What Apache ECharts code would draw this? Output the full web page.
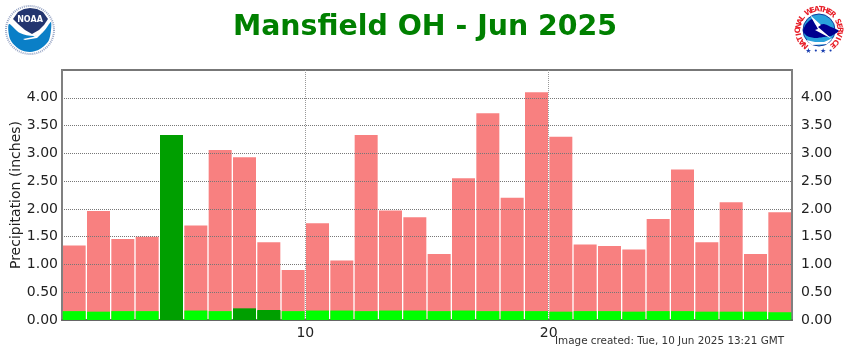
<!DOCTYPE html>
<html>
<head>
<meta charset="utf-8">
<style>
  html, body { margin: 0; padding: 0; background: #fff; }
  #chart { width: 850px; height: 350px; }
</style>
<script src="https://cdn.jsdelivr.net/npm/echarts@6/dist/echarts.min.js"></script>
</head>
<body>
<div id="chart"></div>
<script>
const days = ['1','2','3','4','5','6','7','8','9','10','11','12','13','14','15','16','17','18','19','20','21','22','23','24','25','26','27','28','29','30'];
// record max for each day, the pink bars
const recordPrecip = [1.34,1.96,1.46,1.50,3.33,1.70,3.06,2.93,1.40,0.90,1.74,1.07,3.33,1.97,1.85,1.19,2.55,3.72,2.20,4.10,3.30,1.36,1.33,1.27,1.82,2.71,1.40,2.12,1.19,1.94];
// daily normals, the lime bars
const normalPrecip = [0.16,0.15,0.16,0.16,0.16,0.17,0.16,0.16,0.16,0.16,0.17,0.17,0.16,0.17,0.17,0.16,0.17,0.16,0.16,0.16,0.15,0.16,0.16,0.15,0.16,0.16,0.15,0.15,0.15,0.14];
// observed so far, the dark green bars
const observedPrecip = [0,0,0,0,3.33,0,0,0.21,0.18,0,0,0,0,0,0,0,0,0,0,0,0,0,0,0,0,0,0,0,0,0];
const yTicks = { min: 0, max: 4.5, interval: 0.5 };
const FONT = '"DejaVu Sans", Verdana, sans-serif';

const chart = echarts.init(document.getElementById('chart'));

function valueAxis(position, labelMargin) {
    return {
        type: 'value',
        position: position,
        min: yTicks.min,
        max: yTicks.max,
        interval: yTicks.interval,
        z: 3,
        axisLine: { show: true, lineStyle: { color: '#808080', width: 2 } },
        axisTick: { show: false },
        axisLabel: {
            showMaxLabel: false,
            margin: labelMargin,
            padding: [6, 0, 0, 0],
            color: '#222',
            fontFamily: FONT,
            fontSize: 14,
            formatter: v => v.toFixed(2)
        },
        splitLine: {
            show: position === 'left',
            lineStyle: { color: '#777', width: 1, type: [1, 1] }
        }
    };
}

function barSeries(name, values, color, z) {
    return {
        name: name,
        type: 'bar',
        data: values,
        xAxisIndex: 0,
        yAxisIndex: 0,
        barWidth: 23,
        barGap: '-100%',
        z: z,
        itemStyle: { color: color }
    };
}

// seal on the left
const noaaLogo = [
    { type: 'circle', shape: { cx: 30, cy: 30, r: 24 }, style: { fill: '#fff', stroke: '#98a6c6', lineWidth: 2, lineDash: [1, 1] } },
    { type: 'polygon', shape: { smooth: 0.3, points: [[9, 24], [20, 33], [35, 36], [44, 31], [51, 22], [49, 40], [40, 49], [30, 52], [19, 49], [10, 39]] }, style: { fill: '#0a7fc7' } },
    { type: 'polygon', shape: { points: [[13, 19], [18, 12], [24, 9], [30, 8], [37, 9], [43, 12], [48, 19], [44, 25], [39, 30], [32, 34], [25, 30], [18, 24]] }, style: { fill: '#23356f' } },
    { type: 'polygon', shape: { points: [[23, 39], [33, 37], [44, 31], [37, 38], [25, 40]] }, style: { fill: '#fff' } },
    { type: 'text', style: { text: 'NOAA', x: 30, y: 20, align: 'center', verticalAlign: 'middle', fill: '#fff', font: 'bold 8px ' + FONT } }
];

// seal on the right, letters placed one by one round the ring
const nwsLetters = 'NATIONAL WEATHER SERVICE';
const nwsLogo = [
    { type: 'circle', shape: { cx: 819, cy: 30, r: 16 }, style: { fill: '#2aa3dc', stroke: '#123a9c', lineWidth: 1 } },
    { type: 'polygon', shape: { smooth: 0.2, points: [[803, 31], [806, 24], [812, 19], [816, 25], [824, 24], [831, 27], [839, 31], [831, 36], [824, 37], [815, 38], [807, 36]] }, style: { fill: '#00008f' } },
    { type: 'polygon', shape: { points: [[806, 40], [815, 42], [824, 42], [833, 38], [827, 44], [812, 45]] }, style: { fill: '#fff' } },
    { type: 'polygon', shape: { points: [[810, 15], [821, 25], [818, 27], [832, 39], [815, 30], [818, 29]] }, style: { fill: '#fff' } },
    { type: 'text', style: { text: '★ • ★ •', x: 819, y: 51, align: 'center', verticalAlign: 'middle', fill: '#1a3fb0', font: '7px ' + FONT } }
];
nwsLetters.split('').forEach((ch, i) => {
    const angle = (-138 + i * 276 / (nwsLetters.length - 1)) * Math.PI / 180;
    nwsLogo.push({
        type: 'text',
        x: 819 + 20.5 * Math.sin(angle),
        y: 30 - 20.5 * Math.cos(angle),
        rotation: -angle,
        style: { text: ch, align: 'center', verticalAlign: 'middle', fill: '#e8202a', font: 'bold 7.5px ' + FONT }
    });
});

const option = {
    animation: false,
    backgroundColor: '#fff',
    title: {
        text: 'Mansfield OH - Jun 2025',
        left: 'center',
        top: 9,
        textStyle: { color: '#008000', fontFamily: FONT, fontWeight: 'bold', fontSize: 28.4 }
    },
    grid: {
        left: 62,
        right: 58,
        top: 70,
        bottom: 30,
        outerBoundsMode: 'none',
        show: true,
        borderColor: '#777',
        borderWidth: 2,
        backgroundColor: 'transparent'
    },
    xAxis: [{
        type: 'category',
        data: days,
        show: false
    }, {
        type: 'value',
        position: 'bottom',
        min: 0,
        max: 30,
        interval: 10,
        z: 3,
        axisLine: { show: true, lineStyle: { color: '#666', width: 2 } },
        axisTick: { show: false },
        axisLabel: {
            margin: 6,
            color: '#222',
            fontFamily: FONT,
            fontSize: 14,
            formatter: v => (v === 0 || v === 30) ? '' : String(v)
        },
        splitLine: { show: true, lineStyle: { color: '#999', width: 1, type: [1, 1] } }
    }],
    yAxis: [Object.assign(valueAxis('left', 4), {
        name: 'Precipitation (inches)',
        nameLocation: 'middle',
        nameGap: 39,
        nameRotate: 90,
        nameMoveOverlap: false,
        nameTextStyle: { color: '#222', fontFamily: FONT, fontSize: 14 }
    }), valueAxis('right', 9)],
    series: [
        barSeries('Record', recordPrecip, '#f88080', 1),
        barSeries('Normal', normalPrecip, '#00ff00', 4),
        barSeries('Observed', observedPrecip, '#009f00', 5)
    ],
    graphic: [{
        type: 'group',
        children: noaaLogo
    }, {
        type: 'group',
        children: nwsLogo
    }, {
        type: 'text',
        style: {
            text: 'Image created: Tue, 10 Jun 2025 13:21 GMT',
            x: 555,
            y: 341,
            verticalAlign: 'middle',
            fill: '#333',
            font: '10.4px ' + FONT
        }
    }]
};

chart.setOption(option);
</script>
</body>
</html>
